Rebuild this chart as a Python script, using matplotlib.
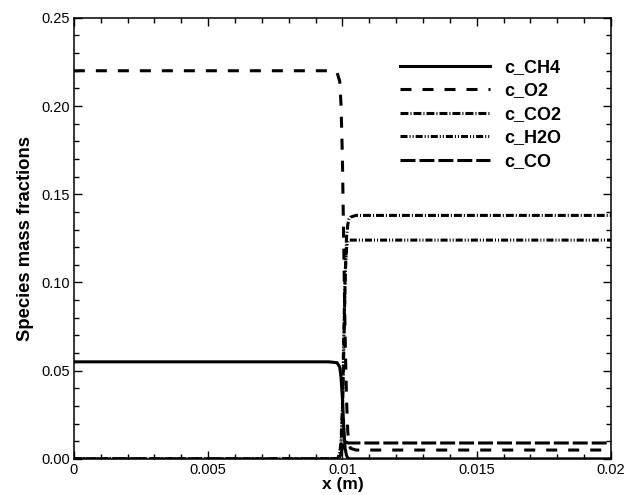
import matplotlib
matplotlib.use("Agg")
import matplotlib.pyplot as plt
from matplotlib.ticker import MultipleLocator, FixedLocator

plt.rcParams['font.family'] = ['Liberation Sans', 'DejaVu Sans']

x = [0.0, 0.0095, 0.0098, 0.0099, 0.00995, 0.0100, 0.01005, 0.0101,
     0.01015, 0.0102, 0.01025, 0.0103, 0.0105, 0.02]

c_ch4 = [0.055, 0.055, 0.0545, 0.052, 0.046, 0.034, 0.018, 0.006,
         0.002, 0.0005, 0.0, 0.0, 0.0, 0.0]
c_o2 = [0.220, 0.220, 0.219, 0.214, 0.200, 0.170, 0.120, 0.070,
        0.035, 0.015, 0.008, 0.006, 0.005, 0.005]
c_co2 = [0.0, 0.0, 0.0, 0.002, 0.008, 0.025, 0.060, 0.100,
         0.125, 0.133, 0.136, 0.137, 0.138, 0.138]
c_h2o = [0.0, 0.0, 0.0, 0.003, 0.010, 0.030, 0.070, 0.105,
         0.119, 0.123, 0.124, 0.124, 0.124, 0.124]
c_co = [0.0, 0.0, 0.0, 0.001, 0.003, 0.006, 0.009, 0.010,
        0.0095, 0.009, 0.009, 0.009, 0.009, 0.009]

labels = ['c_CH4', 'c_O2', 'c_CO2', 'c_H2O', 'c_CO']
xtick_vals = [0, 0.005, 0.01, 0.015, 0.02]
xtick_labels = ['0', '0.005', '0.01', '0.015', '0.02']
ytick_vals = [0.0, 0.05, 0.10, 0.15, 0.20, 0.25]
ytick_labels = ['0.00', '0.05', '0.10', '0.15', '0.20', '0.25']

fig = plt.figure(figsize=(6.26, 4.95), dpi=100)
ax = fig.add_axes([0.118, 0.073, 0.858, 0.891])

lw = 2.2
styles = [
    '-',
    (0, (3.6, 3.6)),
    (0, (2.6, 0.65, 0.35, 0.65)),
    (0, (2.3, 0.65, 0.35, 0.65, 0.35, 0.65)),
    (0, (4.9, 1.3)),
]
series = [c_ch4, c_o2, c_co2, c_h2o, c_co]
for y, ls, lab in zip(series, styles, labels):
    ax.plot(x, y, color='black', lw=lw, linestyle=ls, label=lab)

ax.set_xlim(0, 0.02)
ax.set_ylim(0, 0.25)
ax.xaxis.set_major_locator(FixedLocator(xtick_vals))
ax.set_xticklabels(xtick_labels)
ax.xaxis.set_minor_locator(MultipleLocator(0.001))
ax.yaxis.set_major_locator(FixedLocator(ytick_vals))
ax.set_yticklabels(ytick_labels)
ax.yaxis.set_minor_locator(MultipleLocator(0.01))

ax.tick_params(which='both', direction='in', top=True, right=True,
               labelsize=10.5, width=1.0, pad=3)
ax.tick_params(which='major', length=6)
ax.tick_params(which='minor', length=3.5)
for sp in ax.spines.values():
    sp.set_linewidth(1.1)

ax.set_xlabel('x (m)', fontsize=12.5, fontweight='bold', labelpad=0)
ax.set_ylabel('Species mass fractions', fontsize=13.3, fontweight='bold', labelpad=5)

ax.legend(loc='upper left', bbox_to_anchor=(0.594, 0.923), frameon=False,
          prop={'weight': 'bold', 'size': 13}, handlelength=5.0,
          handletextpad=0.75, labelspacing=0.36, borderaxespad=0)

fig.savefig('out.png', dpi=100)
